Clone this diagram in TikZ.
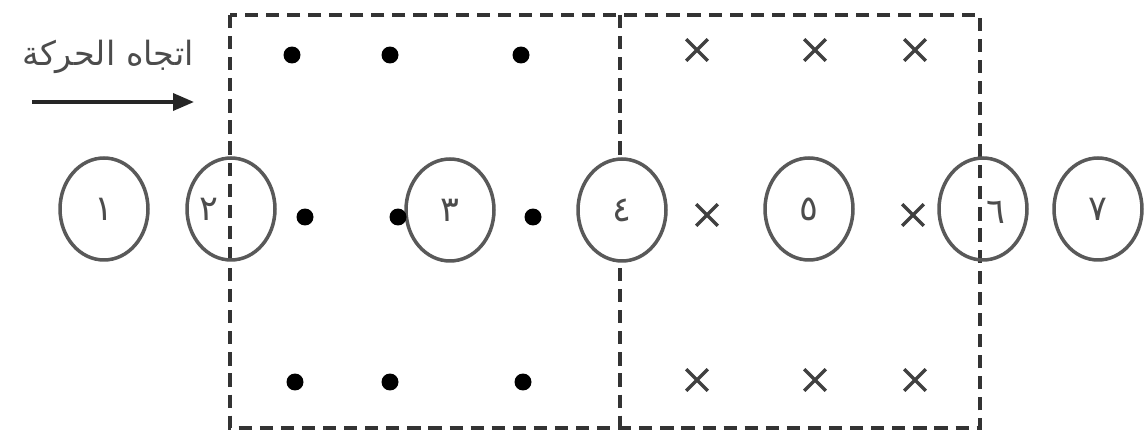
\documentclass[tikz,border=0pt]{standalone}
\usepackage{fontspec}
\newfontfamily\arabicfont[Script=Arabic]{DejaVu Sans}
\TeXXeTstate=1
\usetikzlibrary{shapes.geometric,shapes.misc,arrows.meta}
\begin{document}
\begin{tikzpicture}[x=0.02cm,y=-0.02cm,
  frameline/.style={draw=black!80,line width=2pt,dash pattern=on 7.5pt off 4.5pt},
  ring/.style={ellipse,draw=black!65,line width=2pt,minimum width=1.76cm,minimum height=2.04cm,inner sep=0pt},
  dig/.style={font=\arabicfont\fontsize{20}{20}\selectfont,text=black!70,inner sep=0pt},
  dotm/.style={circle,fill=black,minimum size=0.34cm,inner sep=0pt},
  crossm/.style={cross out,draw=black!75,line width=2pt,minimum size=0.36cm,inner sep=0pt}]
\useasboundingbox (0,0) rectangle (1144,439);
\fill[white] (0,0) rectangle (1144,439);
% frame
\draw[frameline] (230,15) rectangle (980,428);
\draw[frameline] (620,15) -- (620,428);
% circles
\node[ring] (c1) at (104,209) {};
\node[ring] (c2) at (231,209) {};
\node[ring] (c3) at (450,210) {};
\node[ring,fill=white] (c4) at (622,210) {};
\node[ring] (c5) at (809,209) {};
\node[ring] (c6) at (983,209) {};
\node[ring] (c7) at (1098,209) {};
\node[dig] (l1) at (c1) {\beginR ١\endR};
\node[dig] (l2) at (209,209) {\beginR ٢\endR};
\node[dig] (l3) at (c3) {\beginR ٣\endR};
\node[dig] (l4) at (c4) {\beginR ٤\endR};
\node[dig] (l5) at (c5) {\beginR ٥\endR};
\node[dig] (l6) at (996,212) {\beginR ٦\endR};
\node[dig] (l7) at (c7) {\beginR ٧\endR};
% dots (left half)
\node[dotm] (d1) at (292,55) {};
\node[dotm] (d2) at (390,55) {};
\node[dotm] (d3) at (521,55) {};
\node[dotm] (d4) at (305,217) {};
\node[dotm] (d5) at (398,217) {};
\node[dotm] (d6) at (533,217) {};
\node[dotm] (d7) at (295,382) {};
\node[dotm] (d8) at (390,382) {};
\node[dotm] (d9) at (523,382) {};
% crosses (right half)
\node[crossm] (x1) at (697,50) {};
\node[crossm] (x2) at (815,50) {};
\node[crossm] (x3) at (915,50) {};
\node[crossm] (x4) at (707,215) {};
\node[crossm] (x5) at (913,215) {};
\node[crossm] (x6) at (697,380) {};
\node[crossm] (x7) at (815,380) {};
\node[crossm] (x8) at (915,380) {};
% direction label and arrow
\node[font=\arabicfont\fontsize{19}{19}\selectfont,text=black!70,inner sep=0pt] (t) at (108,57) {\beginR اتجاه الحركة\endR};
\coordinate (as) at (32,102);
\coordinate (ae) at (194,102);
\draw[line width=2pt,draw=black!85,-{Triangle[length=0.42cm,width=0.34cm]}] (as) -- (ae);
\end{tikzpicture}
\end{document}
